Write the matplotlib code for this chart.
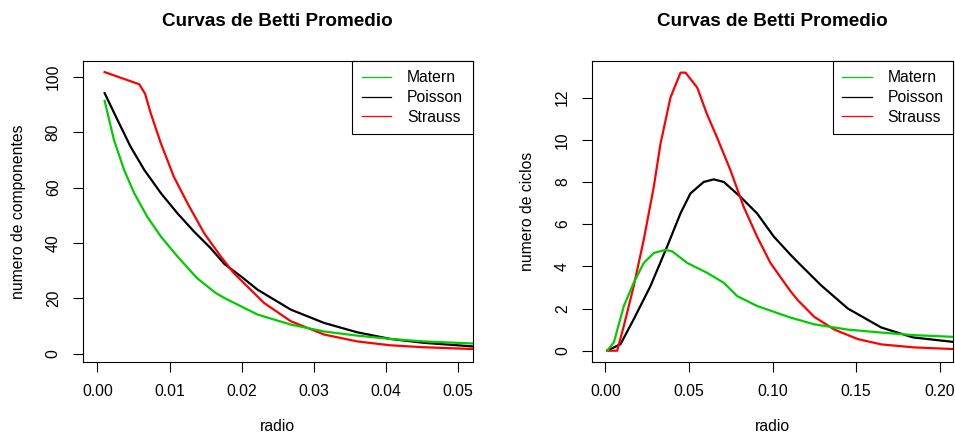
import numpy as np
import matplotlib
matplotlib.use("Agg")
import matplotlib.pyplot as plt

plt.rcParams["font.family"] = ["Liberation Sans", "DejaVu Sans"]

# -------------------------------------------------------
# datos
# -------------------------------------------------------
TITLE = "Curvas de Betti Promedio"
LABELS = ["Matern", "Poisson", "Strauss"]
COLORS = {"Matern": "#00CD00", "Poisson": "black", "Strauss": "#FF0000"}

# panel izquierdo: numero de componentes (Betti 0)
r0_matern = [0.001, 0.0023, 0.0037, 0.0051, 0.0069, 0.0088, 0.0111, 0.0138,
             0.0164, 0.0176, 0.0222, 0.0268, 0.0314, 0.036, 0.0406, 0.0452, 0.0525]
b0_matern = [91.4, 77.2, 66.4, 58.0, 49.5, 42.3, 35.1, 27.3,
             21.9, 20.1, 14.1, 10.5, 8.0, 6.5, 5.3, 4.4, 3.6]

r0_poisson = [0.001, 0.0028, 0.0046, 0.0065, 0.0088, 0.0111, 0.0134, 0.0157,
              0.0176, 0.0199, 0.0222, 0.0268, 0.0314, 0.036, 0.0406, 0.0452, 0.0525]
b0_poisson = [94.2, 84.4, 74.8, 66.4, 58.0, 50.7, 44.1, 38.1,
              32.4, 27.9, 23.1, 15.9, 11.1, 7.7, 5.3, 3.9, 2.5]

r0_strauss = [0.001, 0.0058, 0.0066, 0.0074, 0.0088, 0.0106, 0.0125, 0.0148,
              0.0171, 0.0189, 0.0203, 0.0231, 0.0268, 0.0314, 0.036, 0.0406,
              0.0452, 0.0525]
b0_strauss = [101.8, 97.4, 94.0, 86.8, 76.0, 63.9, 54.3, 43.5,
              35.1, 29.1, 25.5, 18.3, 11.7, 6.9, 4.4, 3.0,
              2.3, 1.6]

# panel derecho: numero de ciclos (Betti 1)
r1_matern = [0.001, 0.005, 0.011, 0.0169, 0.0229, 0.0289, 0.0359, 0.0399, 0.0489,
             0.0608, 0.0708, 0.0788, 0.0907, 0.1107, 0.125, 0.145, 0.165, 0.184, 0.21]
b1_matern = [0.0, 0.39, 2.12, 3.22, 4.16, 4.63, 4.78, 4.71, 4.16,
             3.69, 3.22, 2.59, 2.12, 1.57, 1.25, 1.0, 0.86, 0.74, 0.65]

r1_poisson = [0.001, 0.009, 0.0169, 0.0269, 0.0369, 0.0449, 0.0508, 0.0588, 0.0648,
              0.0708, 0.0808, 0.0907, 0.1007, 0.1107, 0.115, 0.129, 0.145, 0.165,
              0.184, 0.21]
b1_poisson = [0.0, 0.31, 1.49, 3.06, 4.94, 6.51, 7.45, 8.0, 8.12,
              8.0, 7.29, 6.51, 5.41, 4.55, 4.2, 3.1, 2.0, 1.1,
              0.63, 0.4]

r1_strauss = [0.001, 0.007, 0.011, 0.0169, 0.0229, 0.0289, 0.0329, 0.0389, 0.0449,
              0.0479, 0.0549, 0.0608, 0.0668, 0.0748, 0.0827, 0.0907, 0.0987,
              0.1107, 0.115, 0.125, 0.137, 0.151, 0.165, 0.184, 0.21]
b1_strauss = [0.0, 0.0, 1.18, 3.06, 5.26, 7.76, 9.8, 12.0, 13.18,
              13.18, 12.47, 11.2, 10.1, 8.55, 6.82, 5.41, 4.16,
              2.82, 2.4, 1.6, 1.0, 0.55, 0.3, 0.16, 0.07]

XTICKS_L = [0.00, 0.01, 0.02, 0.03, 0.04, 0.05]
YTICKS_L = [0, 20, 40, 60, 80, 100]
XTICKS_R = [0.00, 0.05, 0.10, 0.15, 0.20]
YTICKS_R = [0, 2, 4, 6, 8, 10, 12]

# -------------------------------------------------------
# figura
# -------------------------------------------------------
fig = plt.figure(figsize=(9.55, 4.36), dpi=100, facecolor="white")
ax_l = fig.add_axes([0.0869, 0.170, 0.408, 0.690])
ax_r = fig.add_axes([0.620, 0.170, 0.378, 0.690])

FS = 11.3


def estilo_r(ax, xticks, yticks, xfmt, ylabel):
    ax.set_xticks(xticks)
    ax.set_yticks(yticks)
    ax.set_xticklabels([xfmt.format(v) for v in xticks], fontsize=FS)
    ax.set_yticklabels([str(v) for v in yticks], fontsize=FS, rotation=90,
                       va="center")
    ax.tick_params(direction="out", length=7, width=0.8, pad=9)
    for s in ax.spines.values():
        s.set_linewidth(0.8)
    ax.set_title(TITLE, fontsize=13.6, fontweight="bold", pad=25)
    ax.set_xlabel("radio", fontsize=FS, labelpad=14)
    ax.set_ylabel(ylabel, fontsize=FS, labelpad=14)


series_l = {"Matern": (r0_matern, b0_matern),
            "Poisson": (r0_poisson, b0_poisson),
            "Strauss": (r0_strauss, b0_strauss)}
series_r = {"Matern": (r1_matern, b1_matern),
            "Poisson": (r1_poisson, b1_poisson),
            "Strauss": (r1_strauss, b1_strauss)}

for ax, series in [(ax_l, series_l), (ax_r, series_r)]:
    for name in ["Poisson", "Strauss", "Matern"]:
        xs, ys = series[name]
        ax.plot(xs, ys, color=COLORS[name], linewidth=1.6)
    handles = [plt.Line2D([], [], color=COLORS[n], linewidth=0.9) for n in LABELS]
    ax.legend(handles, LABELS, loc="upper right", fontsize=FS, frameon=True,
              fancybox=False, shadow=False, edgecolor="black", framealpha=1,
              borderaxespad=0, borderpad=0.6, handlelength=1.9,
              handletextpad=1.0, labelspacing=0.3).get_frame().set_linewidth(0.8)

ax_l.set_xlim(-0.002, 0.052)
ax_l.set_ylim(-3.0, 105.8)
ax_r.set_xlim(-0.008, 0.208)
ax_r.set_ylim(-0.53, 13.73)

estilo_r(ax_l, XTICKS_L, YTICKS_L, "{:.2f}", "numero de componentes")
estilo_r(ax_r, XTICKS_R, YTICKS_R, "{:.2f}", "numero de ciclos")

fig.savefig("out.png", dpi=100)
